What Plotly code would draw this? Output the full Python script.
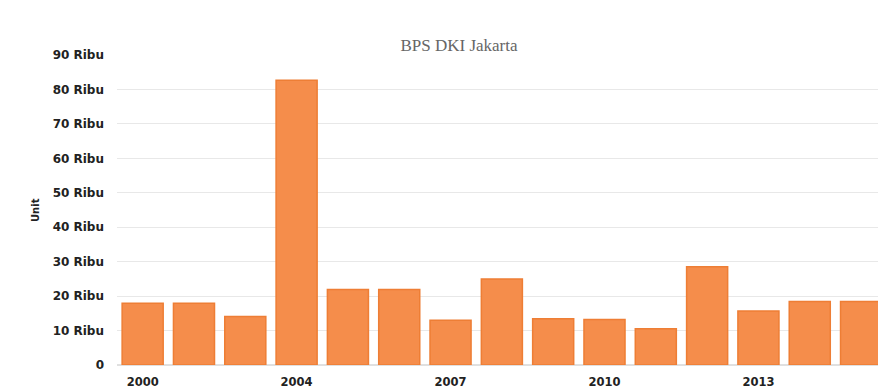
import plotly.graph_objects as go

years = ["2000", "2002", "2003", "2004", "2005", "2006", "2007", "2008",
         "2009", "2010", "2011", "2012", "2013", "2014", "2015"]
values = [17.9, 17.9, 14.1, 82.7, 21.9, 21.9, 13.0, 25.0,
          13.4, 13.2, 10.5, 28.5, 15.7, 18.4, 18.4]  # in thousand (Ribu)
ytick_vals = [0, 10, 20, 30, 40, 50, 60, 70, 80, 90]
ytick_text = ["0", "10 Ribu", "20 Ribu", "30 Ribu", "40 Ribu", "50 Ribu",
              "60 Ribu", "70 Ribu", "80 Ribu", "90 Ribu"]
xtick_vals = ["2000", "2004", "2007", "2010", "2013"]

W, H = 878, 389
L, T, B = 117, 55, 389 - 365
fig = go.Figure()
fig.add_trace(go.Bar(
    x=years, y=values,
    marker=dict(color="#F58D4B", line=dict(color="#EE7E35", width=1.5)),
    width=0.8,
))

ybold = dict(family="DejaVu Sans", size=12, color="#222222", weight="bold")
xbold = dict(family="DejaVu Sans", size=11.5, color="#222222", weight="bold")
fig.update_layout(
    width=W, height=H,
    margin=dict(l=L, r=0, t=T, b=B),
    paper_bgcolor="white", plot_bgcolor="white",
    showlegend=False,
    title=dict(text="BPS DKI Jakarta", x=459 / W, xanchor="center",
               y=1 - 45 / H, yanchor="middle", xref="container", yref="container",
               font=dict(family="Liberation Serif", size=17, color="#666666")),
    xaxis=dict(type="category", range=[-0.5, 14.33],
               tickmode="array", tickvals=xtick_vals, ticktext=xtick_vals,
               showgrid=False, showline=False, ticks="", tickfont=xbold,
               ticklabelstandoff=8, automargin=False),
    yaxis=dict(range=[0, 90], tickmode="array", tickvals=ytick_vals,
               ticktext=ytick_text, showgrid=True, gridcolor="#E8E8E8",
               gridwidth=1, zeroline=True, zerolinecolor="#E0E0E0",
               ticks="", ticklabelstandoff=12, tickfont=ybold, automargin=False),
    annotations=[dict(text="Unit", xref="paper", yref="paper",
                      x=(35 - 117) / (878 - 117), y=(365 - 210) / (365 - 55),
                      showarrow=False, textangle=-90,
                      xanchor="center", yanchor="middle",
                      font=dict(family="DejaVu Sans", size=10, color="#222222",
                                weight="bold"))],
)
fig.write_html(
    "out.html",
    config={"displayModeBar": False},
    post_script="document.body.style.margin='0';document.body.style.overflow='hidden';",
)
